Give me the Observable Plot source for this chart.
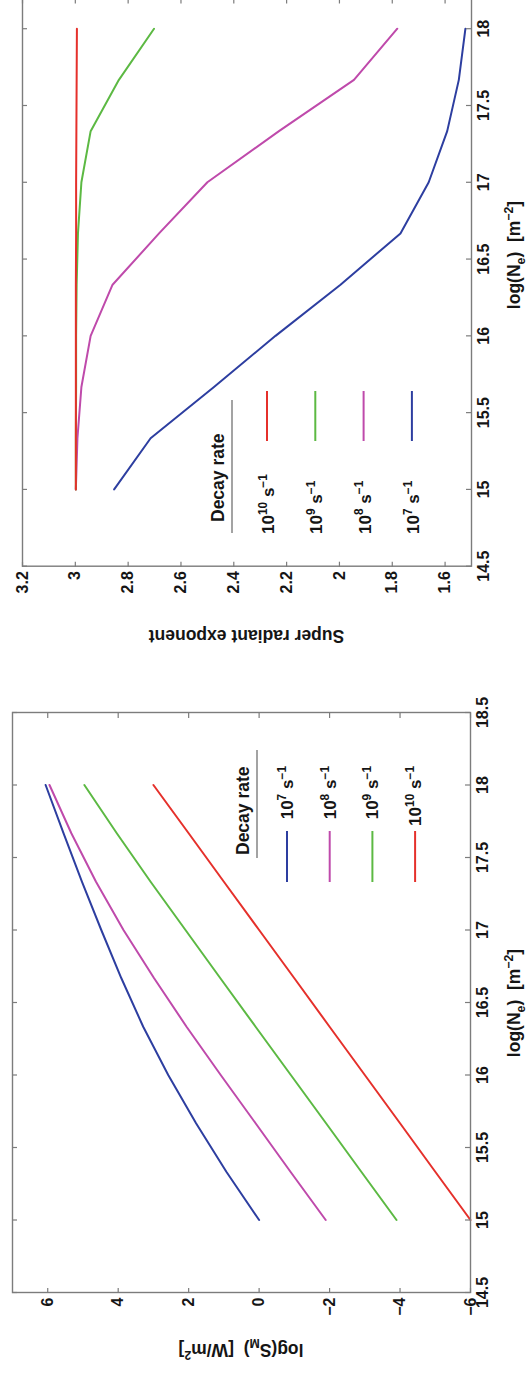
<!DOCTYPE html>
<html><head><meta charset="utf-8">
<script src="https://cdn.jsdelivr.net/npm/d3@7"></script>
<script src="https://cdn.jsdelivr.net/npm/@observablehq/plot@0.6"></script>
<style>
html,body{margin:0;padding:0;background:#fff;overflow:hidden;width:532px;height:1375px;}
#fig{position:absolute;left:0;top:0;width:1380px;height:532px;transform-origin:0 0;transform:translate(0px,1375px) rotate(-90deg);}
#fig svg{position:absolute;top:0;overflow:visible;}
</style></head><body><div id="fig"></div>
<script>
// ---- data ----
const logNe = [15, 15.333, 15.667, 16, 16.333, 16.667, 17, 17.333, 17.667, 18];
const rateExp = [7, 8, 9, 10];               // decay rate 10^n s^-1
const colors = ["#2d3ea0", "#bf4aab", "#5cb943", "#e5302b"];
// log(S_M) [W/m^2]
const logS_r7  = [0.00, 0.93, 1.79, 2.58, 3.29, 3.91, 4.48, 5.03, 5.55, 6.06];
const logS_r8  = [-1.89, -0.89, 0.10, 1.09, 2.06, 2.98, 3.85, 4.63, 5.33, 5.95];
const logS_r9  = [-3.90, -2.90, -1.90, -0.90, 0.10, 1.10, 2.09, 3.08, 4.04, 4.96];
const logS_r10 = [-6.00, -5.00, -4.00, -3.00, -2.00, -1.00, 0.00, 1.00, 2.00, 3.00];
// super radiant exponent
const exp_r7  = [2.853, 2.715, 2.475, 2.242, 1.996, 1.769, 1.662, 1.592, 1.548, 1.523];
const exp_r8  = [2.998, 2.992, 2.977, 2.942, 2.859, 2.683, 2.500, 2.229, 1.945, 1.781];
const exp_r9  = [2.998, 2.998, 2.997, 2.997, 2.995, 2.990, 2.977, 2.942, 2.835, 2.702];
const exp_r10 = [2.998, 2.998, 2.998, 2.998, 2.998, 2.997, 2.997, 2.996, 2.995, 2.994];
// ticks
const xTicks = [14.5, 15, 15.5, 16, 16.5, 17, 17.5, 18, 18.5];
const yTicksS = [-6, -4, -2, 0, 2, 4, 6];
const yTicksE = [1.6, 1.8, 2, 2.2, 2.4, 2.6, 2.8, 3, 3.2];
const xLabel = [{t: "log(N"}, {t: "e", sub: true}, {t: ")  [m"}, {t: "\u22122", sup: true}, {t: "]"}];
const yLabelS = [{t: "log(S"}, {t: "M", sub: true}, {t: ")  [W/m"}, {t: "2", sup: true}, {t: "]"}];
const yLabelE = [{t: "Super radiant exponent"}];
const legendTitle = "Decay rate";

// ---- rendering ----
const H = 532;
const FONT = "'Liberation Sans', Arial, Helvetica, sans-serif";
const INK = "#151515", FRAME = "#7c7c7c";
const fig = document.getElementById("fig");
const fmt = d => String(d).replace("-", "\u2212");

function panel(cfg) {
  const {width, ml, mr, mt, mb, xDomain, yDomain, yTicks, series} = cfg;
  const xt = xTicks.filter(t => t >= xDomain[0] - 1e-9 && t <= xDomain[1] + 1e-9);
  const iw = width - ml - mr, ih = H - mt - mb;
  const kx = 5 * (xDomain[1] - xDomain[0]) / iw;
  const ky = 5 * (yDomain[1] - yDomain[0]) / ih;
  const tk = {stroke: FRAME, strokeWidth: 1.2};
  const marks = [];
  series.forEach((s, i) => marks.push(Plot.line(logNe.map((x, j) => ({x, y: s[j]})),
    {x: "x", y: "y", stroke: colors[i], strokeWidth: 2})));
  marks.push(
    Plot.ruleX(xt, {x: d => d, y1: yDomain[0], y2: yDomain[0] + ky, ...tk}),
    Plot.ruleX(xt, {x: d => d, y1: yDomain[1], y2: yDomain[1] - ky, ...tk}),
    Plot.ruleY(yTicks, {y: d => d, x1: xDomain[0], x2: xDomain[0] + kx, ...tk}),
    Plot.ruleY(yTicks, {y: d => d, x1: xDomain[1], x2: xDomain[1] - kx, ...tk}),
    Plot.frame({stroke: FRAME, strokeWidth: 1.4}),
    Plot.text(xt, {x: d => d, text: fmt, frameAnchor: "bottom", dy: 17, fontSize: 16, fontWeight: "bold", fill: INK}),
    Plot.text(yTicks, {y: d => d, text: fmt, frameAnchor: "left", textAnchor: "end", dx: -5, fontSize: 16, fontWeight: "bold", fill: INK})
  );
  const svg = Plot.plot({
    width, height: H, marginLeft: ml, marginRight: mr, marginTop: mt, marginBottom: mb,
    x: {domain: xDomain, axis: null}, y: {domain: yDomain, axis: null},
    style: {fontFamily: FONT, background: "transparent", overflow: "visible"},
    marks
  });
  svg.style.left = cfg.left + "px";
  fig.appendChild(svg);
  return d3.select(svg);
}

function rich(sel, x, y, parts, {size = 17.5, anchor = "start", rotate = 0} = {}) {
  const t = sel.append("text")
    .attr("transform", `translate(${x},${y}) rotate(${rotate})`)
    .attr("text-anchor", anchor).attr("font-size", size).attr("font-weight", "bold")
    .attr("fill", INK).attr("font-family", FONT).attr("style", "white-space:pre");
  let shift = 0;
  for (const p of parts) {
    const target = p.sup ? -0.42 * size : p.sub ? 0.3 * size : 0;
    const ts = t.append("tspan").attr("dy", target - shift).text(p.t);
    if (p.sup || p.sub) ts.attr("font-size", size * 0.7);
    shift = target;
  }
  return t;
}
const entry = e => [{t: "10"}, {t: String(e), sup: true}, {t: " s"}, {t: "\u22121", sup: true}];

// Left panel of the original figure: log(S_M)
const A = panel({left: 0, width: 720, ml: 82, mr: 58, mt: 12, mb: 62,
  xDomain: [14.5, 18.5], yDomain: [-6, 7], yTicks: yTicksS,
  series: [logS_r7, logS_r8, logS_r9, logS_r10]});
rich(A, 372, 520, xLabel, {anchor: "middle"});
rich(A, 31, 241, yLabelS, {anchor: "middle", rotate: -90});
rich(A, 520, 249, [{t: legendTitle}], {size: 17.5});
A.append("line").attr("x1", 517).attr("x2", 625).attr("y1", 257).attr("y2", 257).attr("stroke", "#666").attr("stroke-width", 1.2);
rateExp.forEach((e, i) => {
  const v = 287 + 42.7 * i;
  A.append("line").attr("x1", 493).attr("x2", 544).attr("y1", v).attr("y2", v).attr("stroke", colors[i]).attr("stroke-width", 2);
  rich(A, 609, v + 6, entry(e), {size: 17, anchor: "end"});
});

// Right panel of the original figure: super radiant exponent
const B = panel({left: 720, width: 660, ml: 88.3, mr: 3.5, mt: 22, mb: 61,
  xDomain: [14.5, 18.2], yDomain: [1.5, 3.2], yTicks: yTicksE,
  series: [exp_r7, exp_r8, exp_r9, exp_r10]});
rich(B, 400, 520, xLabel, {anchor: "middle"});
rich(B, 25, 246.5, yLabelE, {anchor: "middle", rotate: -90});
rich(B, 133, 224, [{t: legendTitle}], {size: 17.5});
B.append("line").attr("x1", 122).attr("x2", 255).attr("y1", 232).attr("y2", 232).attr("stroke", "#666").attr("stroke-width", 1.2);
[3, 2, 1, 0].forEach((i, k) => {
  const v = 267 + 48.3 * k;
  B.append("line").attr("x1", 214).attr("x2", 264).attr("y1", v).attr("y2", v).attr("stroke", colors[i]).attr("stroke-width", 2);
  rich(B, 121, v + 7, entry(rateExp[i]), {size: 17, anchor: "start"});
});
</script></body></html>
